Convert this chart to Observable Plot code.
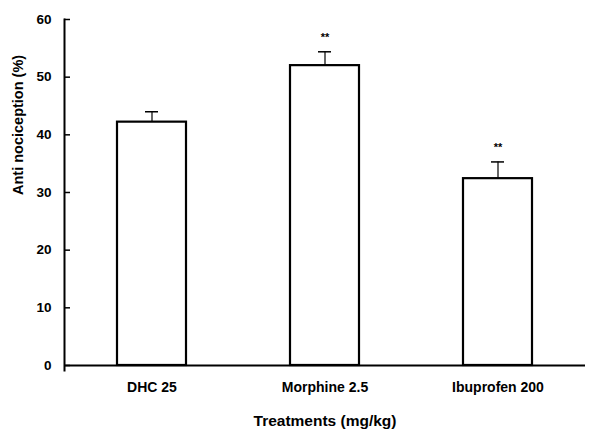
<!DOCTYPE html>
<html>
<head>
<meta charset="utf-8">
<script src="https://cdn.jsdelivr.net/npm/d3@7"></script>
<script src="https://cdn.jsdelivr.net/npm/@observablehq/plot@0.6"></script>
<style>
  html, body { margin: 0; padding: 0; background: #fff; }
  svg { font-family: "Liberation Sans", Arial, sans-serif; font-weight: bold; }
</style>
</head>
<body>
<div id="chart"></div>
<script>
const treatments = ["DHC 25", "Morphine 2.5", "Ibuprofen 200"];
const means = [42.2, 52.0, 32.4];
const sems = [1.8, 2.4, 2.9];
const significance = ["", "**", "**"];
const yTicks = [0, 10, 20, 30, 40, 50, 60];

const data = treatments.map((t, i) => ({
  name: t, value: means[i], err: sems[i], top: means[i] + sems[i], sig: significance[i]
}));

const chart = Plot.plot({
  width: 591,
  height: 434,
  marginLeft: 64,
  marginRight: 6,
  marginTop: 19,
  marginBottom: 64,
  style: { fontFamily: "Liberation Sans, Arial, sans-serif", fontWeight: "bold", background: "#fff", color: "black" },
  x: { domain: treatments, paddingInner: 0.6, paddingOuter: 0.3, axis: null },
  y: { domain: [-0.87, 60], axis: null },
  marks: [
    Plot.axisY(yTicks, { anchor: "left", tickSize: -6, tickPadding: 19, fontSize: 13.5, strokeWidth: 1.5, label: null }),
    Plot.axisX({ anchor: "bottom", tickSize: 0, tickPadding: 12, fontSize: 14, label: null }),
    Plot.frame({ anchor: "left", strokeWidth: 2 }),
    Plot.ruleY([0], { strokeWidth: 2 }),
    Plot.ruleX(data, { x: "name", y1: "value", y2: "top", strokeWidth: 1.2 }),
    Plot.tickY(data, { x: "name", y: "top", insetLeft: 28, insetRight: 28, strokeWidth: 1.5 }),
    Plot.barY(data, { x: "name", y: "value", fill: "white", stroke: "black", strokeWidth: 2.2 }),
    Plot.text(data, { x: "name", y: "top", text: "sig", dy: -14, fontSize: 11, fill: "black" }),
    Plot.text(["Treatments (mg/kg)"], { frameAnchor: "bottom", dy: 55, fontSize: 15.5, fill: "black" }),
    Plot.text(["Anti nociception (%)"], { frameAnchor: "left", dx: -46, rotate: -90, fontSize: 14.5, fill: "black" })
  ]
});
document.getElementById("chart").appendChild(chart);
</script>
</body>
</html>
